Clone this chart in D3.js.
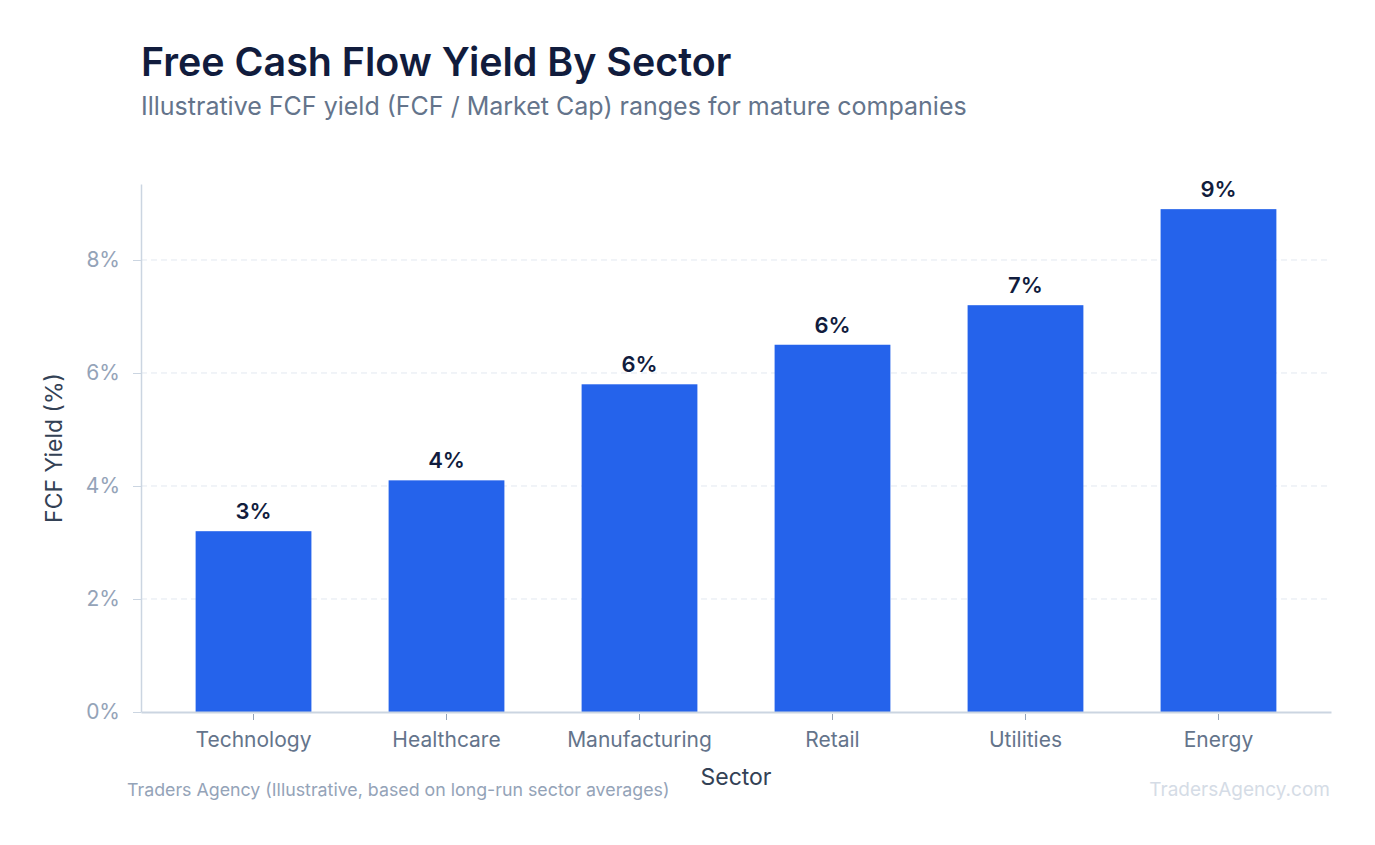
<!DOCTYPE html>
<html>
<head>
<meta charset="utf-8">
<script src="https://cdn.jsdelivr.net/npm/d3@7"></script>
<style>
  html, body { margin: 0; padding: 0; background: #ffffff; }
  svg { display: block; font-family: Inter, "Noto Sans", sans-serif; }
</style>
</head>
<body>
<svg id="chart" width="1375" height="845"></svg>
<script>
const sectors = ["Technology", "Healthcare", "Manufacturing", "Retail", "Utilities", "Energy"];
const fcfYield = [3.2, 4.1, 5.8, 6.5, 7.2, 8.9];
const yTicks = [0, 2, 4, 6, 8];

const titleText = "Free Cash Flow Yield By Sector";
const subtitleText = "Illustrative FCF yield (FCF / Market Cap) ranges for mature companies";
const xTitle = "Sector";
const yTitle = "FCF Yield (%)";
const sourceText = "Traders Agency (Illustrative, based on long-run sector averages)";
const brandText = "TradersAgency.com";

const svg = d3.select("#chart");
const mLeft = 141, mRight = 1331, mTop = 184, mBottom = 712;

// round half to even (matches label rendering in reference)
function roundHalfEven(v) {
  const r = Math.round(v);
  if (Math.abs(v % 1) === 0.5) return (r % 2 === 0) ? r : r - 1;
  return r;
}

const x = d3.scaleBand().domain(sectors).range([mLeft, mRight]).paddingInner(0.4).paddingOuter(0.283);
const y = d3.scaleLinear().domain([0, d3.max(fcfYield) * 1.05]).range([mBottom, mTop]);

// title
svg.append("text").attr("x", 141).attr("y", 76)
  .attr("font-size", 39.4).attr("font-weight", 600).attr("fill", "#111c3d")
  .text(titleText);
svg.append("text").attr("x", 141).attr("y", 115)
  .attr("font-size", 25).attr("fill", "#64748b")
  .text(subtitleText);

// gridlines
svg.append("g").selectAll("line").data(yTicks.filter(d => d > 0)).join("line")
  .attr("x1", mLeft).attr("x2", mRight)
  .attr("y1", d => y(d)).attr("y2", d => y(d))
  .attr("stroke", "#e2e8f0").attr("stroke-width", 1).attr("stroke-dasharray", "6,4");

// bars
svg.append("g").selectAll("rect").data(sectors).join("rect")
  .attr("x", d => x(d)).attr("width", x.bandwidth())
  .attr("y", (d, i) => y(fcfYield[i]))
  .attr("height", (d, i) => mBottom - y(fcfYield[i]))
  .attr("fill", "#2563eb");

// value labels
svg.append("g").selectAll("text").data(sectors).join("text")
  .attr("x", d => x(d) + x.bandwidth() / 2)
  .attr("y", (d, i) => y(fcfYield[i]) - 12)
  .attr("text-anchor", "middle")
  .attr("font-size", 22).attr("font-weight", 600).attr("fill", "#111c3d")
  .text((d, i) => roundHalfEven(fcfYield[i]) + "%");

// y axis
const yAxis = d3.axisLeft(y).tickValues(yTicks).tickFormat(d => d + "%")
  .tickSizeInner(8).tickSizeOuter(0).tickPadding(13);
const gy = svg.append("g").attr("transform", `translate(${mLeft},0)`).call(yAxis);
gy.select(".domain").attr("stroke", "#cbd5e1").attr("stroke-width", 1.5);
gy.selectAll(".tick line").attr("stroke", "#cbd5e1");
gy.selectAll(".tick text").attr("font-size", 21).attr("fill", "#94a3b8")
  .attr("font-family", "Inter, 'Noto Sans', sans-serif");

// x axis
const xAxis = d3.axisBottom(x).tickSizeInner(8).tickSizeOuter(0).tickPadding(12);
const gx = svg.append("g").attr("transform", `translate(0,${mBottom})`).call(xAxis);
gx.select(".domain").attr("stroke", "#cbd5e1").attr("stroke-width", 2);
gx.selectAll(".tick line").attr("stroke", "#94a3b8").attr("stroke-width", 1).attr("y1", 2);
gx.selectAll(".tick text").attr("font-size", 21).attr("fill", "#64748b")
  .attr("font-family", "Inter, 'Noto Sans', sans-serif");

// axis titles
svg.append("text").attr("x", (mLeft + mRight) / 2).attr("y", 785)
  .attr("text-anchor", "middle").attr("font-size", 23).attr("fill", "#334155")
  .text(xTitle);
svg.append("text").attr("transform", `translate(62,${(mTop + mBottom) / 2}) rotate(-90)`)
  .attr("text-anchor", "middle").attr("font-size", 23).attr("fill", "#334155")
  .text(yTitle);

// footer
svg.append("text").attr("x", 127).attr("y", 796)
  .attr("font-size", 17.8).attr("fill", "#94a3b8").text(sourceText);
svg.append("text").attr("x", 1330).attr("y", 796).attr("text-anchor", "end")
  .attr("font-size", 19).attr("fill", "#d5dce6").text(brandText);
</script>
</body>
</html>
